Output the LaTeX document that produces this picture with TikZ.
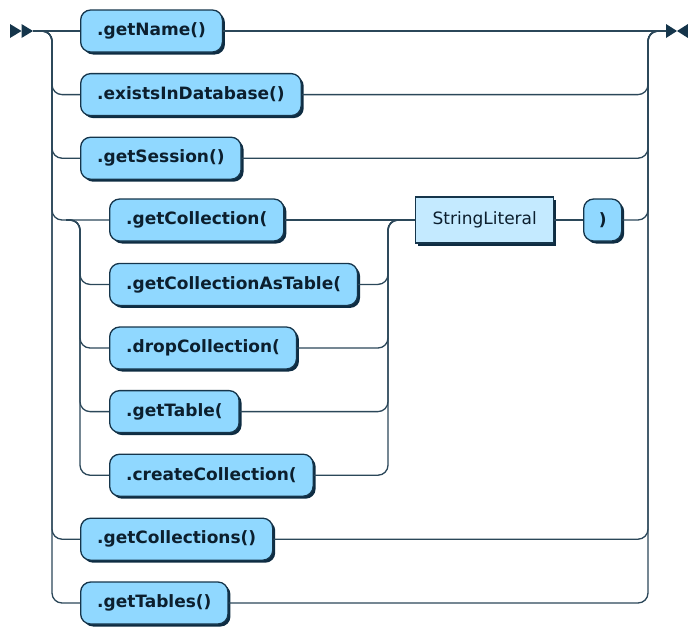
\documentclass[tikz,border=0pt]{standalone}
\usepackage{fontspec}
\newfontfamily\railfont{DejaVu Sans}
\usetikzlibrary{shadows}
\definecolor{railline}{HTML}{2B4759}
\definecolor{railedge}{HTML}{15354B}
\definecolor{railtext}{HTML}{0C1F2E}
\definecolor{termfill}{HTML}{90D8FF}
\definecolor{ntermfill}{HTML}{C4EAFF}
\definecolor{railshadow}{HTML}{0E2C42}
\tikzset{
  rail/.style={draw=railline, line width=1.3pt},
  terminal/.style={draw=railedge, fill=termfill, text=railtext, line width=1.3pt, rounded corners=10pt,
    minimum height=42pt, inner xsep=16.5pt, anchor=west,
    font=\railfont\bfseries\fontsize{17}{20}\selectfont,
    drop shadow={shadow xshift=2.5pt, shadow yshift=-2.5pt, fill=railshadow, opacity=1}},
  nonterminal/.style={draw=railedge, fill=ntermfill, text=railtext, line width=1.3pt,
    minimum height=46pt, inner xsep=17pt, anchor=west,
    font=\railfont\fontsize{17}{20}\selectfont,
    drop shadow={shadow xshift=2.5pt, shadow yshift=-2.5pt, fill=railshadow, opacity=1}}
}
\begin{document}
\begin{tikzpicture}[x=1pt, y=-1pt]
    \useasboundingbox (0,0) rectangle (688,630);

    % Rail coordinates
    \coordinate (start) at (33,31);
    \coordinate (finish) at (666,31);
    \coordinate (L) at (52,31);
    \coordinate (R) at (648,31);
    \coordinate (IL) at (80,220);
    \coordinate (IR) at (388,220);
    \coordinate (innersplit) at (66,220);

    % Start and end marks
    \fill[railedge] (10,24) -- (21.5,31) -- (10,38) -- cycle;
    \fill[railedge] (21.5,24) -- (start) -- (21.5,38) -- cycle;
    \fill[railedge] (666,24) -- (677,31) -- (666,38) -- cycle;
    \fill[railedge] (688,24) -- (677,31) -- (688,38) -- cycle;

    % Terminals and nonterminal
    \node[terminal] (getname) at (80,31) {.getName()};
    \node[terminal] (exists) at (80,94.6) {.existsInDatabase()};
    \node[terminal] (session) at (80,158.2) {.getSession()};
    \node[terminal] (getcoll) at (109,220) {.getCollection(};
    \node[terminal] (astable) at (109,284.4) {.getCollectionAsTable(};
    \node[terminal] (dropcoll) at (109,348) {.dropCollection(};
    \node[terminal] (gettable) at (109,411.6) {.getTable(};
    \node[terminal] (createcoll) at (109,475.2) {.createCollection(};
    \node[terminal] (getcolls) at (80,539.2) {.getCollections()};
    \node[terminal] (gettables) at (80,603) {.getTables()};
    \node[nonterminal] (strlit) at (415,220) {StringLiteral};
    \node[terminal, minimum width=38pt, inner xsep=0pt] (closeparen) at (583,220) {)};

    % Main line
    \draw[rail] (start) -- (getname.west);
    \draw[rail] (getname.east) -- (finish);

    % Outer choice
    \foreach \n in {exists, session, getcoll, getcolls, gettables} {
        \draw[rail, rounded corners=10pt] (start) -| (L |- \n.west) -- (\n.west);
    }
    \foreach \n in {exists, session, getcolls, gettables} {
        \draw[rail, rounded corners=10pt] (\n.east) -| (R |- finish) -- (finish);
    }

    % Inner choice
    \foreach \n in {astable, dropcoll, gettable, createcoll} {
        \draw[rail, rounded corners=10pt] (innersplit) -| (IL |- \n.west) -- (\n.west);
        \draw[rail, rounded corners=10pt] (\n.east) -| (IR |- strlit.west) -- (strlit.west);
    }
    \draw[rail] (getcoll.east) -- (strlit.west);
    \draw[rail] (strlit.east) -- (closeparen.west);
    \draw[rail, rounded corners=10pt] (closeparen.east) -| (R |- finish) -- (finish);
\end{tikzpicture}
\end{document}
